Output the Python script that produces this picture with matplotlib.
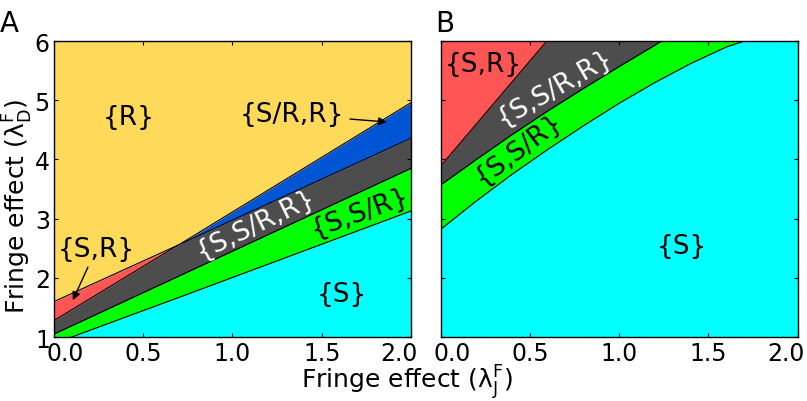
import matplotlib
matplotlib.use('Agg')
import matplotlib.pyplot as plt
import matplotlib.transforms as mtransforms
import numpy as np

plt.rcParams['font.family'] = 'DejaVu Sans'
plt.rcParams['mathtext.default'] = 'regular'

# colours of the regions
c_r = '#FFD95A'
c_sr = '#FF5555'
c_srr = '#0055D4'
c_ssrr = '#4D4D4D'
c_ssr = '#00FF00'
c_s = '#00FFFF'

# Panel A: boundary lines (x = lambda_J)
xa = [0.0, 0.70, 2.0]
a_line1 = [1.60, 2.56, 4.36]   # {R}/{S,R} then {S/R,R}/{S,S/R,R}
a_line2 = [1.28, 2.56, 4.96]   # {S,R}/{S,S/R,R} then {R}/{S/R,R}
a_ssr_top = [1.05, 2.03, 3.85]
a_s_top = [0.89, 1.67, 3.13]

# Panel B: boundary curves
xb_sr = [0.0, 0.594]
b_sr_low = [3.89, 6.0]
xb_ssrr = [0.0, 0.2, 0.4, 0.6, 0.8, 1.0, 1.238]
b_ssrr_low = [3.57, 4.00, 4.42, 4.82, 5.20, 5.57, 6.0]
xb_ssr = [0.0, 0.2, 0.4, 0.6, 0.8, 1.0, 1.2, 1.4, 1.6, 1.70]
b_ssr_low = [2.82, 3.30, 3.75, 4.17, 4.57, 4.95, 5.30, 5.62, 5.90, 6.0]

xmin, xmax, ymin, ymax = 0.0, 2.0, 1.0, 6.0
xticks = [0.0, 0.5, 1.0, 1.5, 2.0]
yticks = [1, 2, 3, 4, 5, 6]

fig = plt.figure(figsize=(8.07, 4.02), dpi=100)
axA = fig.add_axes([0.0669, 0.159, 0.4424, 0.7363])
axB = fig.add_axes([0.5461, 0.159, 0.4424, 0.7363])

# ---- panel A
xa_ = np.array(xa)
l1 = np.array(a_line1)
l2 = np.array(a_line2)
axA.fill_between(xa_, ymin, a_s_top, color=c_s, lw=0)
axA.fill_between(xa_, a_s_top, a_ssr_top, color=c_ssr, lw=0)
axA.fill_between(xa_, a_ssr_top, np.minimum(l1, l2), color=c_ssrr, lw=0)
axA.fill_between(xa_, l2, l1, where=l1 >= l2, color=c_sr, lw=0)
axA.fill_between(xa_, l1, l2, where=l2 >= l1, color=c_srr, lw=0)
axA.fill_between(xa_, np.maximum(l1, l2), ymax, color=c_r, lw=0)
for yy in [a_line1, a_line2, a_ssr_top, a_s_top]:
    axA.plot(xa, yy, color='black', lw=0.8)

fs = 19
axA.text(0.416, 4.71, '{R}', fontsize=fs, ha='center', va='center')
axA.annotate('{S/R,R}', xy=(1.88, 4.63), xytext=(1.335, 4.76), fontsize=fs,
             ha='center', va='center',
             arrowprops=dict(arrowstyle='-|>', color='black', lw=1, mutation_scale=12))
axA.annotate('{S,R}', xy=(0.099, 1.58), xytext=(0.237, 2.49), fontsize=fs,
             ha='center', va='center',
             arrowprops=dict(arrowstyle='-|>', color='black', lw=1, mutation_scale=12))
axA.text(1.13, 2.91, '{S,S/R,R}', fontsize=fs, ha='center', va='center',
         rotation=26, color='white', rotation_mode='anchor')
axA.text(1.714, 3.11, '{S,S/R}', fontsize=fs, ha='center', va='center',
         rotation=20, rotation_mode='anchor')
axA.text(1.61, 1.73, '{S}', fontsize=fs, ha='center', va='center')

# ---- panel B
axB.set_facecolor(c_sr)
axB.fill_between(xb_sr + [xmax], ymin, b_sr_low + [ymax], color=c_ssrr, lw=0)
axB.fill_between(xb_ssrr + [xmax], ymin, b_ssrr_low + [ymax], color=c_ssr, lw=0)
axB.fill_between(xb_ssr + [xmax], ymin, b_ssr_low + [ymax], color=c_s, lw=0)
axB.plot(xb_sr, b_sr_low, color='black', lw=0.8)
axB.plot(xb_ssrr, b_ssrr_low, color='black', lw=0.8)
axB.plot(xb_ssr, b_ssr_low, color='black', lw=0.8)

axB.text(0.24, 5.61, '{S,R}', fontsize=fs, ha='center', va='center')
axB.text(0.64, 5.22, '{S,S/R,R}', fontsize=fs, ha='center', va='center',
         rotation=30, color='white', rotation_mode='anchor')
axB.text(0.435, 4.18, '{S,S/R}', fontsize=fs, ha='center', va='center',
         rotation=37, rotation_mode='anchor')
axB.text(1.35, 2.54, '{S}', fontsize=fs, ha='center', va='center')

for ax in (axA, axB):
    ax.set_xlim(xmin, xmax)
    ax.set_ylim(ymin, ymax)
    ax.set_xticks(xticks)
    ax.set_xticklabels(['%.1f' % t for t in xticks])
    ax.set_yticks(yticks)
    ax.tick_params(direction='in', top=True, right=True, length=3, width=0.8,
                   labelsize=17)
    ax.tick_params(axis='x', pad=3)
    ax.tick_params(axis='y', pad=3)
    for s in ax.spines.values():
        s.set_linewidth(1)
    labs = ax.get_xticklabels()
    labs[0].set_transform(labs[0].get_transform() +
                          mtransforms.ScaledTranslation(0.11, 0, fig.dpi_scale_trans))
    labs[-1].set_transform(labs[-1].get_transform() +
                           mtransforms.ScaledTranslation(-0.12, 0, fig.dpi_scale_trans))
axA.set_yticklabels([str(t) for t in yticks])
axB.set_yticklabels([])

fig.text(0.504, 0.033, r'Fringe effect ($\lambda^{F}_{J}$)', fontsize=18,
         ha='center', va='baseline')
fig.text(0.022, 0.486, r'Fringe effect ($\lambda^{F}_{D}$)', fontsize=18,
         ha='center', va='center', rotation=90)
fig.text(0.0, 0.975, 'A', fontsize=20, ha='left', va='top')
fig.text(0.539, 0.975, 'B', fontsize=20, ha='left', va='top')

fig.savefig('out.png', dpi=100)
